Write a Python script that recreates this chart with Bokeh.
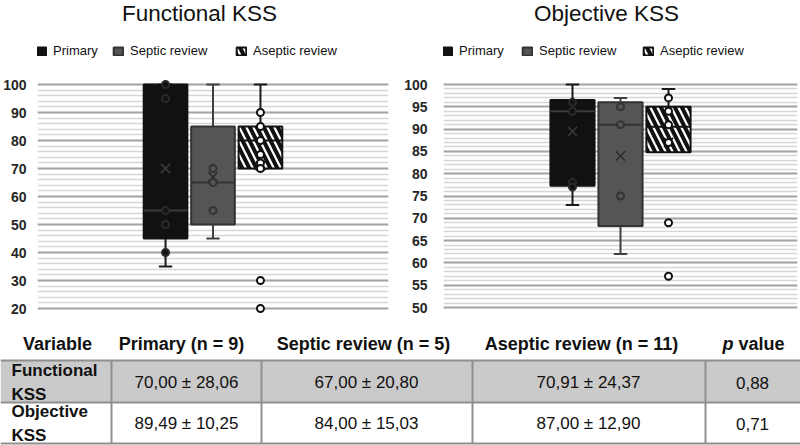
from bokeh.plotting import figure
from bokeh.models import Range1d, FixedTicker, Label, Legend, LegendItem
from bokeh.layouts import column, row
from bokeh.embed import file_html
from bokeh.resources import INLINE
from bokeh.core.properties import value

FONT = "Liberation Sans"

# ---------------- data ----------------
groups = ["Primary", "Septic review", "Aseptic review"]
group_n = [9, 5, 11]

# Functional KSS
func_whisker_low = [35, 45, 70]
func_q1 = [45, 50, 70]
func_median = [55, 65, 80]
func_q3 = [100, 85, 85]
func_whisker_high = [100, 100, 100]
func_mean = [70.00, 67.00, 70.91]
func_sd = [28.06, 20.80, 24.37]
func_points = [[100, 95, 55, 50, 40], [70, 65, 55], [90, 85, 80, 75, 72, 70]]
func_outliers = [[], [], [30, 20]]
func_p = 0.88

# Objective KSS
obj_whisker_low = [73, 62, 85]
obj_q1 = [77.3, 68.3, 84.8]
obj_median = [94, 91, 90.5]
obj_q3 = [96.5, 96, 95]
obj_whisker_high = [100, 97, 99]
obj_mean = [89.49, 84.00, 87.00]
obj_sd = [10.25, 15.03, 12.90]
obj_points = [[96, 94, 78, 77], [95, 91, 75], [97, 94, 91, 87]]
obj_outliers = [[], [], [69, 57]]
obj_p = 0.71

# ---------------- styles ----------------
box_fill = ["#111111", "#555555", "white"]
box_line = ["#111111", "#333333", "#111111"]
whisk_col = ["#1a1a1a", "#404040", "#1a1a1a"]
mean_col = ["#3a3a3a", "#2a2a2a", "#111111"]
pt_fill = ["#111111", "#555555", "white"]
pt_line = ["#2a2a2a", "#333333", "#111111"]
hatch = [None, None, "\\"]
group_pos = [-1, 0, 1]
BOX_W = 0.92
CAP_W = 0.28
FIG_H = 320
PLOT_TOP = 84


def box_panel(title, ymin, ymax, interval, lo, q1, med, q3, hi, mean, points, outliers,
              border_left, border_right, plot_bottom, title_x_abs, legend_x_abs):
    frame_w = 400 - border_left - border_right
    half = frame_w / 2 / 48.0
    ppu = (plot_bottom - PLOT_TOP) / (ymax - ymin)
    y0 = ymin - (FIG_H - plot_bottom) / ppu
    y1 = ymax + PLOT_TOP / ppu
    p = figure(width=400, height=FIG_H, x_range=Range1d(-half, half),
               y_range=Range1d(y0, y1), output_backend="svg", toolbar_location=None,
               min_border_left=border_left, min_border_right=border_right,
               min_border_top=0, min_border_bottom=0)
    p.outline_line_color = None
    p.xaxis.visible = False
    p.xgrid.visible = False
    majors = list(range(ymin, ymax + 1, interval))
    step = interval / 5
    minors = [ymin + k * step for k in range(int((ymax - ymin) / step) + 1)]
    p.yaxis.ticker = FixedTicker(ticks=majors, minor_ticks=minors)
    p.yaxis.axis_line_color = None
    p.yaxis.major_tick_line_color = None
    p.yaxis.minor_tick_line_color = None
    p.yaxis.major_label_text_font = FONT
    p.yaxis.major_label_text_font_style = "bold"
    p.yaxis.major_label_text_font_size = "14px"
    p.yaxis.major_label_text_color = "#262626"
    p.yaxis.major_label_standoff = 5 if border_left < 40 else 10
    p.ygrid.grid_line_color = "#a6a6a6"
    p.ygrid.grid_line_width = 2
    p.ygrid.minor_grid_line_color = "#d6d6d6"
    p.ygrid.minor_grid_line_width = 1.5

    box_renderers = []
    for i in range(3):
        x = group_pos[i]
        p.segment(x0=[x, x], y0=[lo[i], q3[i]], x1=[x, x], y1=[q1[i], hi[i]],
                  line_color=whisk_col[i], line_width=2)
        p.segment(x0=[x - CAP_W / 2, x - CAP_W / 2], y0=[lo[i], hi[i]],
                  x1=[x + CAP_W / 2, x + CAP_W / 2], y1=[lo[i], hi[i]],
                  line_color=whisk_col[i], line_width=2)
        kw = dict(fill_color=box_fill[i], line_color=box_line[i], line_width=2)
        if hatch[i]:
            kw.update(hatch_pattern=hatch[i], hatch_color="#111111", hatch_weight=4,
                      hatch_scale=14)
        r = p.vbar(x=[x], width=BOX_W, top=[q3[i]], bottom=[q1[i]], **kw)
        box_renderers.append(r)
        med_col = "#3c3c3c" if i == 0 else box_line[i]
        p.segment(x0=[x - BOX_W / 2], y0=[med[i]], x1=[x + BOX_W / 2], y1=[med[i]],
                  line_color=med_col, line_width=2)
        p.scatter(x=[x], y=[mean[i]], marker="x", size=13, line_color=mean_col[i],
                  line_width=1.5)
        pts = points[i] + outliers[i]
        p.scatter(x=[x] * len(pts), y=pts, marker="circle", size=7,
                  fill_color=pt_fill[i], line_color=pt_line[i], line_width=2)

    p.add_layout(Label(x=title_x_abs - border_left, y=FIG_H - 13,
                       x_units="screen", y_units="screen", text=title,
                       text_font=FONT, text_font_size="22.5px", text_align="center",
                       text_baseline="alphabetic", text_color="#111111"))
    for i in range(3):
        lg = Legend(items=[LegendItem(label=groups[i], renderers=[box_renderers[i]])],
                    location=(legend_x_abs[i] - border_left - 4, FIG_H - 58),
                    orientation="horizontal", border_line_color=None,
                    background_fill_alpha=0, padding=0, margin=0, glyph_width=12,
                    glyph_height=10, label_standoff=6, label_height=10,
                    label_text_font=FONT, label_text_font_size="13px",
                    label_text_color="#111111")
        p.add_layout(lg)
    return p


p1 = box_panel("Functional KSS", 20, 100, 10, func_whisker_low, func_q1, func_median,
               func_q3, func_whisker_high, func_mean, func_points, func_outliers,
               33, 12, 308, 195, [35, 112, 235])
p2 = box_panel("Objective KSS", 50, 100, 5, obj_whisker_low, obj_q1, obj_median,
               obj_q3, obj_whisker_high, obj_mean, obj_points, obj_outliers,
               43, 3, 307, 206, [45, 125, 246])

# ---------------- table ----------------
def fmt(v):
    return f"{v:.2f}".replace(".", ",")


header_labels = ["Variable"] + [f"{g} (n = {n})" for g, n in zip(groups, group_n)]
row_labels = ["Functional\nKSS", "Objective\nKSS"]
func_cells = [f"{fmt(m)} ± {fmt(s)}" for m, s in zip(func_mean, func_sd)] + [fmt(func_p)]
obj_cells = [f"{fmt(m)} ± {fmt(s)}" for m, s in zip(obj_mean, obj_sd)] + [fmt(obj_p)]

col_edges = [111, 261, 472, 705]
row_edges = [40, 82, 123]
header_x = [57, 181, 363, 581]
value_x = [186, 366, 588, 752]
header_y = 23
row_y = [62, 103]

t = figure(width=800, height=125, x_range=Range1d(0, 800), y_range=Range1d(125, 0),
           output_backend="svg", toolbar_location=None, min_border=0)
t.outline_line_color = None
t.xaxis.visible = False
t.yaxis.visible = False
t.grid.visible = False

t.quad(left=[0], right=[800], top=[row_edges[0]], bottom=[row_edges[1]],
       fill_color="#cacaca", line_color=None)
t.segment(x0=[0] * 3, x1=[800] * 3, y0=row_edges, y1=row_edges,
          line_color="#8f8f8f", line_width=2)
t.segment(x0=col_edges, x1=col_edges, y0=[row_edges[0]] * 4, y1=[row_edges[2]] * 4,
          line_color="#8f8f8f", line_width=2)

t.text(x=header_x, y=[header_y] * 4, text=header_labels, text_font=value(FONT),
       text_font_style="bold", text_font_size="18px", text_align="center",
       text_baseline="middle", text_color="#111111")
t.text(x=[733], y=[header_y], text=["p"], text_font=value(FONT),
       text_font_style="bold italic", text_font_size="18px", text_align="right",
       text_baseline="middle", text_color="#111111")
t.text(x=[738], y=[header_y], text=["value"], text_font=value(FONT),
       text_font_style="bold", text_font_size="18px", text_align="left",
       text_baseline="middle", text_color="#111111")
t.text(x=[11, 11], y=row_y, text=row_labels, text_font=value(FONT),
       text_font_style="bold", text_font_size="17px", text_align="left",
       text_baseline="middle", text_line_height=1.25, text_color="#111111")
t.text(x=value_x, y=[row_y[0]] * 4, text=func_cells, text_font=value(FONT),
       text_font_size="17px", text_align="center", text_baseline="middle",
       text_color="#111111")
t.text(x=value_x, y=[row_y[1]] * 4, text=obj_cells, text_font=value(FONT),
       text_font_size="17px", text_align="center", text_baseline="middle",
       text_color="#111111")

layout = column(row(p1, p2), t)
open("out.html", "w").write(file_html(layout, INLINE))
